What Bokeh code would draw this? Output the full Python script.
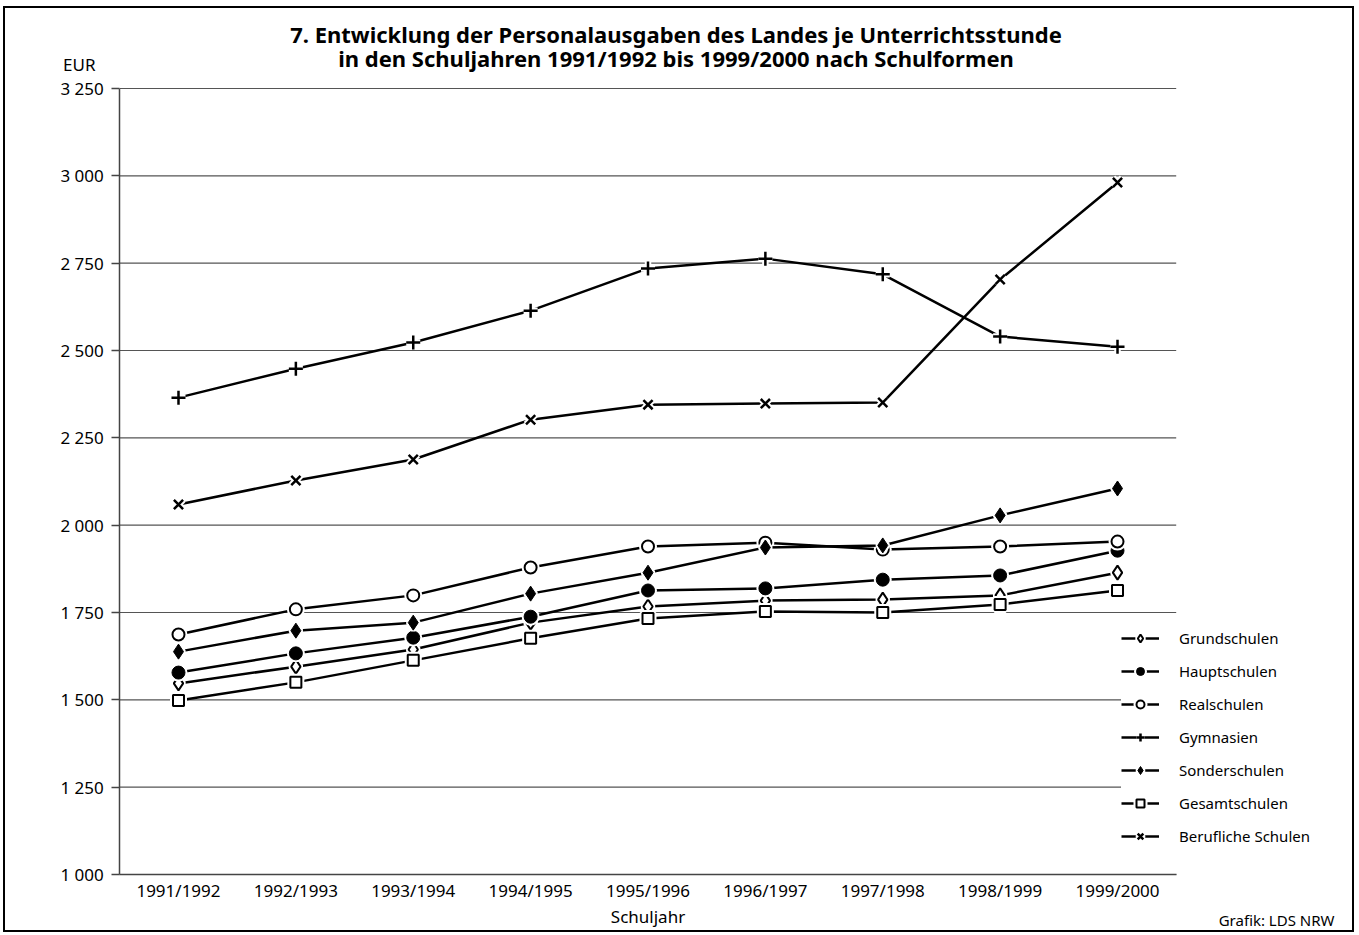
from bokeh.plotting import figure
from bokeh.models import Range1d, FixedTicker, Legend, LegendItem, Label
from bokeh.embed import file_html
from bokeh.resources import INLINE

# ---------------- data ----------------
years = ["1991/1992", "1992/1993", "1993/1994", "1994/1995", "1995/1996",
         "1996/1997", "1997/1998", "1998/1999", "1999/2000"]

y_ticks = [1000, 1250, 1500, 1750, 2000, 2250, 2500, 2750, 3000, 3250]
y_tick_labels = ["1 000", "1 250", "1 500", "1 750", "2 000", "2 250",
                 "2 500", "2 750", "3 000", "3 250"]

grundschulen = [1547, 1595, 1644, 1721, 1767, 1784, 1787, 1799, 1864]
hauptschulen = [1578, 1633, 1678, 1738, 1813, 1819, 1844, 1856, 1927]
realschulen = [1687, 1759, 1799, 1879, 1939, 1950, 1930, 1939, 1953]
gymnasien = [2365, 2448, 2523, 2614, 2735, 2763, 2718, 2540, 2511]
sonderschulen = [1638, 1698, 1721, 1804, 1864, 1936, 1942, 2028, 2105]
gesamtschulen = [1498, 1550, 1613, 1676, 1733, 1753, 1750, 1773, 1813]
berufliche = [2059, 2128, 2188, 2302, 2345, 2348, 2351, 2703, 2981]

series_names = ["Grundschulen", "Hauptschulen", "Realschulen", "Gymnasien",
                "Sonderschulen", "Gesamtschulen", "Berufliche Schulen"]
series_values = [grundschulen, hauptschulen, realschulen, gymnasien,
                 sonderschulen, gesamtschulen, berufliche]

title_line1 = "7. Entwicklung der Personalausgaben des Landes je Unterrichtsstunde"
title_line2 = "in den Schuljahren 1991/1992 bis 1999/2000 nach Schulformen"
x_title = "Schuljahr"
y_unit = "EUR"
source_note = "Grafik: LDS NRW"

# ---------------- layout (page pixels) ----------------
FONT = "Noto Sans"
EL_LEFT, EL_TOP = 3, 6          # element margin
BORDER = 2
EL_W, EL_H = 1351, 926
# the canvas is as large as the element and starts inside the border
CANVAS_X0 = EL_LEFT + BORDER
CANVAS_Y0 = EL_TOP + BORDER
CANVAS_W = EL_W
CANVAS_H = EL_H

# plot area in page pixels
PA_LEFT, PA_RIGHT = 119.3, 1175.7
PA_TOP, PA_BOTTOM = 88.0, 874.0

n = len(years)
x_lo, x_hi = -0.5, n - 0.5
y_lo, y_hi = y_ticks[0], y_ticks[-1]
px_per_x = (PA_RIGHT - PA_LEFT) / (x_hi - x_lo)
px_per_y = (PA_BOTTOM - PA_TOP) / (y_hi - y_lo)

# frame = whole canvas, ranges chosen so the plot area lands where it should
xr = Range1d(x_lo - (PA_LEFT - CANVAS_X0) / px_per_x,
             x_hi + (CANVAS_X0 + CANVAS_W - PA_RIGHT) / px_per_x)
yr = Range1d(y_lo - (CANVAS_Y0 + CANVAS_H - PA_BOTTOM) / px_per_y,
             y_hi + (PA_TOP - CANVAS_Y0) / px_per_y)


def to_data(px, py):
    return (x_lo + (px - PA_LEFT) / px_per_x, y_lo + (PA_BOTTOM - py) / px_per_y)


marker_styles = [
    dict(marker="diamond", size=14, fill_color="white", line_width=2),
    dict(marker="circle", size=13, fill_color="black", line_width=1),
    dict(marker="circle", size=12, fill_color="white", line_width=2),
    dict(marker="cross", size=14, fill_color="black", line_width=2.5),
    dict(marker="diamond", size=15, fill_color="black", line_width=1),
    dict(marker="square", size=11, fill_color="white", line_width=2),
    dict(marker="x", size=13, fill_color="black", line_width=2.5),
]

p = figure(width=EL_W, height=EL_H, output_backend="svg", toolbar_location=None,
           x_range=xr, y_range=yr, min_border=0,
           min_border_left=0, min_border_right=0, min_border_top=0, min_border_bottom=0)
p.title.visible = False
p.styles = {"border": f"{BORDER}px solid black", "margin-left": f"{EL_LEFT}px",
            "margin-top": f"{EL_TOP}px", "box-sizing": "border-box"}
p.outline_line_color = None
p.background_fill_color = "white"
p.border_fill_color = "white"
p.grid.visible = False

# gridlines limited to the plot area
p.segment(x0=[x_lo] * len(y_ticks), x1=[x_hi] * len(y_ticks), y0=y_ticks, y1=y_ticks,
          line_color="#555555", line_width=1.2)

# axes
p.yaxis.fixed_location = x_lo
p.yaxis.bounds = (y_lo, y_hi)
p.yaxis.ticker = FixedTicker(ticks=y_ticks)
p.yaxis.major_label_overrides = {t: l for t, l in zip(y_ticks, y_tick_labels)}
p.yaxis.major_tick_out = 8
p.yaxis.major_tick_in = 0
p.yaxis.major_label_standoff = 8
p.xaxis.fixed_location = y_lo
p.xaxis.bounds = (x_lo, x_hi)
p.xaxis.ticker = FixedTicker(ticks=list(range(n)))
p.xaxis.major_label_overrides = {i: y for i, y in enumerate(years)}
p.xaxis.major_tick_out = 0
p.xaxis.major_tick_in = 0
p.xaxis.major_label_standoff = 4
p.xaxis.axis_label = x_title
p.xaxis.axis_label_standoff = 0
p.xaxis.axis_label_text_font_style = "normal"
for ax in (p.xaxis, p.yaxis):
    ax.minor_tick_line_color = None
    ax.axis_line_color = "#444444"
    ax.axis_line_width = 1.5
    ax.major_tick_line_color = "#444444"
    ax.major_tick_line_width = 1.5
    ax.major_label_text_font = FONT
    ax.major_label_text_font_size = "17px"
    ax.major_label_text_color = "black"
    ax.axis_label_text_font = FONT
    ax.axis_label_text_font_size = "17px"
    ax.axis_label_text_color = "black"

x = list(range(n))
items = []
for name, vals, st in zip(series_names, series_values, marker_styles):
    ln = p.line(x, vals, line_color="black", line_width=2.5)
    halo = p.scatter(x, vals, marker=st["marker"], size=st["size"],
                     fill_color="white", line_color="white", line_width=st["line_width"] + 4)
    mk = p.scatter(x, vals, marker=st["marker"], size=st["size"],
                   fill_color=st["fill_color"], line_color="black",
                   line_width=st["line_width"])
    items.append(LegendItem(label=name, renderers=[ln, halo, mk]))

LEG_PAD = 4
legend = Legend(items=items,
                location=(1125 - LEG_PAD - CANVAS_X0, CANVAS_Y0 + CANVAS_H - 846),
                orientation="vertical",
                background_fill_color="white", background_fill_alpha=1.0,
                border_line_color=None, padding=LEG_PAD, margin=0,
                glyph_width=38, glyph_height=20, label_height=20,
                label_standoff=20, spacing=13,
                label_text_font=FONT, label_text_font_size="15px",
                label_text_color="black")
p.add_layout(legend, "center")


def add_text(px, py, text, align, size, bold=False):
    dx, dy = to_data(px, py)
    p.add_layout(Label(x=dx, y=dy, text=text, text_align=align, text_baseline="middle",
                       text_font=FONT, text_font_size=size,
                       text_font_style="bold" if bold else "normal",
                       text_color="black"))


add_text(675.5, 33, title_line1, "center", "22px", bold=True)
add_text(675.5, 57, title_line2, "center", "22px", bold=True)
add_text(95, 64, y_unit, "right", "17px")
add_text(1334, 919, source_note, "right", "15px")

open("out.html", "w").write(file_html(p, INLINE))
